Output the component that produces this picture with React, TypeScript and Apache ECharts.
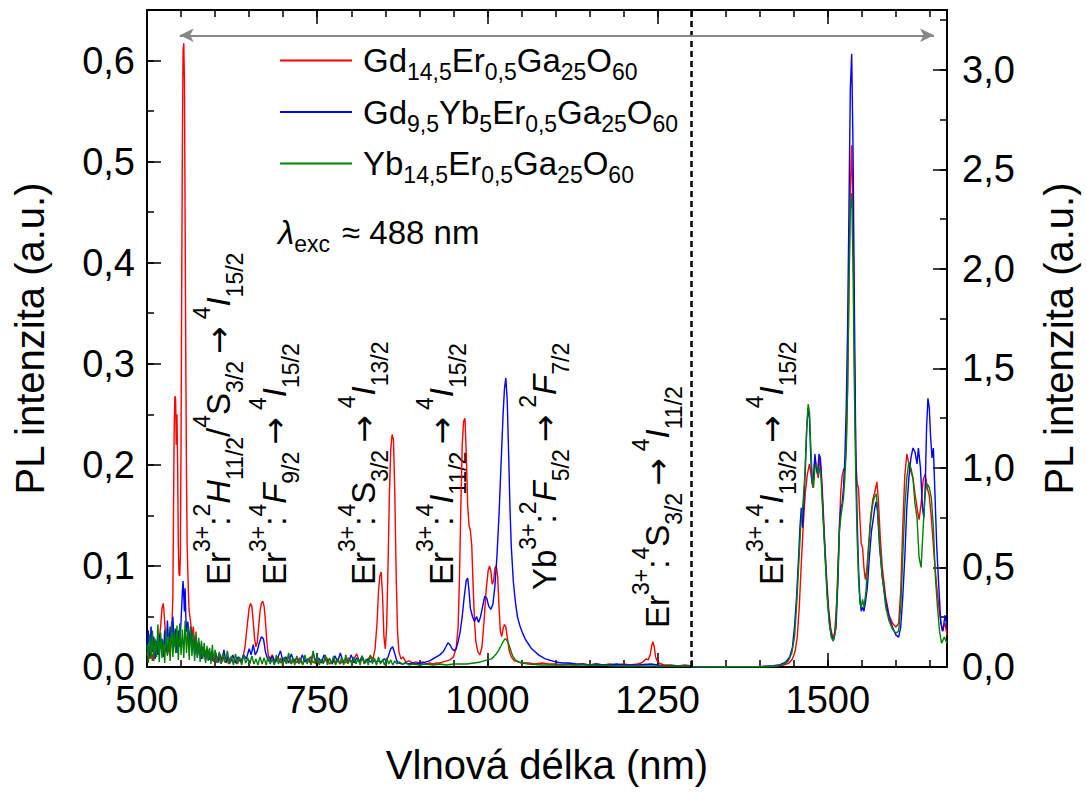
import React, { useEffect, useRef } from 'react';
import * as echarts from 'echarts';

const FONT = '"Liberation Sans", Arial, Helvetica, sans-serif';
const ARROW_FONT = '"DejaVu Sans", "Liberation Sans", sans-serif';

// ---------- data ----------
const sampleNames = ['Gd14,5Er0,5Ga25O60', 'Gd9,5Yb5Er0,5Ga25O60', 'Yb14,5Er0,5Ga25O60'];
const sampleColors = ['#ff0000', '#0000ff', '#008000'];
const xTickLabels = [500, 750, 1000, 1250, 1500];
const splitWavelength = 1300;

// visible range (left axis)
const redVis: [number, number][] = [
  [500,0.012],[502,0.02],[504,0.008],[506,0.016],[508,0.006],[510,0.018],[512,0.01],[514,0.022],[516,0.012],[518,0.028],[520,0.04],[522,0.058],[524,0.063],[526,0.045],[528,0.02],[530,0.012],[532,0.02],[534,0.012],[536,0.03],[538,0.07],[539,0.16],[540,0.24],[541,0.268],[542,0.265],[543,0.22],[544,0.25],[545,0.2],[546,0.12],[547,0.092],[548,0.09],[549,0.11],[550,0.22],[551,0.38],[552,0.52],[553,0.61],[554,0.617],[555,0.58],[556,0.44],[557,0.3],[558,0.19],[559,0.12],[560,0.095],[561,0.07],[562,0.055],[564,0.045],[566,0.03],[568,0.04],[570,0.022],[572,0.03],[574,0.016],[576,0.025],[578,0.012],[581,0.02],[584,0.01],[587,0.017],[590,0.007],[593,0.014],[596,0.006],[599,0.012],[602,0.005],[605,0.011],[608,0.004],[611,0.012],[614,0.005],[617,0.009],[620,0.003],[623,0.01],[626,0.004],[629,0.008],[632,0.003],[635,0.007],[638,0.005],[641,0.01],[644,0.02],[647,0.04],[650,0.058],[652,0.063],[654,0.06],[656,0.045],[658,0.028],[660,0.02],[662,0.024],[664,0.04],[666,0.055],[668,0.063],[670,0.065],[672,0.06],[674,0.045],[676,0.025],[678,0.012],[681,0.008],[684,0.012],[688,0.005],[692,0.01],[696,0.004],[700,0.009],[704,0.004],[708,0.01],[712,0.003],[716,0.008],[720,0.004],[724,0.009],[728,0.003],[732,0.007],[736,0.005],[740,0.01],[744,0.004],[748,0.008],[752,0.003],[756,0.007],[760,0.005],[764,0.009],[768,0.003],[772,0.006],[776,0.004],[780,0.008],[784,0.003],[788,0.007],[792,0.004],[796,0.009],[800,0.005],[804,0.008],[808,0.013],[812,0.005],[816,0.008],[820,0.004],[824,0.007],[828,0.011],[832,0.008],[835,0.018],[838,0.045],[840,0.075],[842,0.09],[844,0.094],[846,0.07],[848,0.03],[850,0.018],[852,0.04],[854,0.1],[856,0.17],[858,0.215],[860,0.23],[862,0.225],[864,0.17],[866,0.09],[868,0.035],[870,0.015],[873,0.008],[876,0.01],[880,0.005],[885,0.006],[890,0.004],[895,0.005],[900,0.004],[905,0.005],[910,0.003],[915,0.004],[920,0.003],[925,0.004],[930,0.004],[935,0.005],[940,0.006],[945,0.007],[950,0.01],[954,0.018],[957,0.04],[959,0.09],[961,0.16],[963,0.22],[965,0.243],[967,0.246],[969,0.21],[971,0.16],[973,0.14],[975,0.135],[977,0.12],[979,0.08],[981,0.045],[983,0.025],[986,0.015],[989,0.012],[992,0.02],[995,0.045],[998,0.075],[1001,0.095],[1003,0.1],[1005,0.095],[1007,0.082],[1009,0.085],[1011,0.098],[1013,0.1],[1015,0.09],[1017,0.06],[1019,0.035],[1021,0.03],[1023,0.038],[1025,0.042],[1027,0.04],[1029,0.03],[1032,0.016],[1035,0.01],[1040,0.006],[1045,0.005],[1050,0.004],[1060,0.004],[1070,0.003],[1080,0.004],[1090,0.003],[1100,0.003],[1110,0.002],[1120,0.003],[1130,0.002],[1140,0.003],[1150,0.002],[1160,0.003],[1170,0.002],[1180,0.003],[1190,0.002],[1200,0.003],[1210,0.002],[1220,0.003],[1226,0.004],[1230,0.006],[1233,0.008],[1236,0.007],[1239,0.012],[1241,0.02],[1243,0.025],[1245,0.02],[1247,0.01],[1250,0.005],[1255,0.003],[1260,0.002],[1270,0.002],[1280,0.001],[1290,0.002],[1300,0.001]
];

const blueVis: [number, number][] = [
  [500,0.02],[502,0.036],[504,0.01],[506,0.04],[508,0.015],[510,0.03],[512,0.008],[514,0.026],[516,0.012],[518,0.032],[520,0.018],[522,0.028],[524,0.01],[526,0.036],[528,0.015],[530,0.046],[532,0.02],[534,0.04],[536,0.024],[538,0.05],[540,0.02],[542,0.038],[544,0.014],[546,0.036],[548,0.02],[550,0.045],[551,0.06],[552,0.075],[553,0.085],[554,0.07],[555,0.055],[556,0.078],[557,0.05],[558,0.035],[560,0.045],[562,0.022],[564,0.04],[566,0.016],[568,0.032],[570,0.012],[572,0.028],[574,0.01],[577,0.024],[580,0.008],[583,0.02],[586,0.006],[589,0.018],[592,0.007],[595,0.016],[598,0.005],[601,0.014],[604,0.004],[607,0.013],[610,0.005],[613,0.017],[616,0.004],[619,0.011],[622,0.004],[626,0.012],[630,0.004],[634,0.01],[638,0.005],[642,0.012],[646,0.008],[650,0.018],[653,0.012],[656,0.022],[659,0.012],[662,0.016],[665,0.024],[668,0.03],[671,0.028],[674,0.015],[677,0.008],[680,0.005],[684,0.011],[688,0.004],[692,0.009],[696,0.016],[700,0.005],[704,0.01],[708,0.004],[712,0.013],[716,0.005],[720,0.009],[724,0.004],[728,0.012],[732,0.005],[736,0.008],[740,0.004],[744,0.014],[748,0.005],[752,0.009],[756,0.004],[760,0.012],[764,0.005],[768,0.008],[772,0.003],[776,0.011],[780,0.005],[784,0.014],[788,0.004],[792,0.008],[796,0.005],[800,0.012],[804,0.004],[808,0.009],[812,0.005],[816,0.011],[820,0.004],[824,0.008],[828,0.005],[832,0.007],[836,0.005],[840,0.006],[844,0.005],[848,0.008],[852,0.006],[855,0.012],[858,0.018],[861,0.02],[864,0.013],[867,0.006],[870,0.004],[875,0.003],[880,0.004],[885,0.003],[890,0.004],[895,0.003],[900,0.004],[905,0.004],[910,0.005],[915,0.006],[920,0.008],[925,0.01],[930,0.012],[935,0.015],[939,0.02],[942,0.024],[945,0.022],[948,0.018],[951,0.016],[954,0.018],[957,0.025],[960,0.035],[963,0.05],[966,0.07],[969,0.086],[971,0.088],[973,0.075],[975,0.058],[978,0.05],[981,0.045],[984,0.05],[987,0.044],[990,0.05],[993,0.06],[996,0.07],[999,0.068],[1002,0.06],[1005,0.057],[1008,0.062],[1011,0.08],[1014,0.11],[1017,0.15],[1020,0.2],[1023,0.25],[1025,0.275],[1027,0.286],[1029,0.265],[1031,0.215],[1033,0.16],[1035,0.12],[1038,0.085],[1041,0.065],[1044,0.05],[1048,0.04],[1052,0.033],[1056,0.027],[1060,0.023],[1065,0.018],[1070,0.015],[1075,0.012],[1080,0.01],[1085,0.008],[1090,0.007],[1095,0.006],[1100,0.005],[1110,0.004],[1120,0.004],[1130,0.003],[1140,0.003],[1150,0.002],[1160,0.003],[1170,0.002],[1180,0.002],[1190,0.003],[1200,0.002],[1220,0.002],[1240,0.003],[1250,0.002],[1260,0.001],[1280,0.001],[1300,0.001]
];

const greenVis: [number, number][] = [
  [500,0.022],[502,0.004],[504,0.032],[506,0.008],[508,0.036],[510,0.006],[512,0.028],[514,0.01],[516,0.042],[518,0.005],[520,0.034],[522,0.009],[524,0.026],[526,0.004],[528,0.038],[530,0.011],[532,0.031],[534,0.006],[536,0.045],[538,0.01],[540,0.036],[542,0.014],[544,0.041],[546,0.007],[548,0.043],[550,0.012],[552,0.037],[554,0.009],[556,0.046],[558,0.014],[560,0.039],[562,0.007],[564,0.04],[566,0.011],[568,0.032],[570,0.006],[572,0.035],[574,0.009],[576,0.029],[578,0.005],[580,0.026],[582,0.008],[584,0.024],[586,0.004],[588,0.021],[590,0.006],[592,0.019],[594,0.003],[596,0.022],[598,0.005],[600,0.017],[603,0.004],[606,0.015],[609,0.003],[612,0.013],[615,0.004],[618,0.016],[621,0.003],[624,0.011],[627,0.002],[630,0.013],[633,0.003],[636,0.01],[639,0.002],[642,0.012],[645,0.004],[648,0.009],[651,0.003],[654,0.011],[657,0.003],[660,0.008],[663,0.002],[666,0.01],[669,0.003],[672,0.009],[675,0.002],[678,0.011],[681,0.003],[684,0.008],[687,0.002],[690,0.012],[693,0.003],[696,0.009],[699,0.002],[702,0.01],[705,0.003],[708,0.014],[711,0.003],[714,0.009],[717,0.002],[720,0.011],[723,0.003],[726,0.008],[729,0.002],[732,0.012],[735,0.003],[738,0.009],[741,0.002],[744,0.016],[747,0.003],[750,0.01],[753,0.002],[756,0.008],[759,0.003],[762,0.012],[765,0.002],[768,0.009],[771,0.003],[774,0.011],[777,0.002],[780,0.008],[783,0.003],[786,0.01],[789,0.002],[792,0.012],[795,0.003],[798,0.008],[801,0.002],[804,0.01],[807,0.003],[810,0.009],[813,0.002],[816,0.011],[819,0.003],[822,0.008],[825,0.002],[828,0.012],[831,0.003],[834,0.009],[837,0.002],[840,0.01],[843,0.003],[846,0.007],[849,0.002],[852,0.009],[855,0.003],[858,0.007],[861,0.002],[864,0.006],[867,0.003],[870,0.005],[875,0.003],[880,0.004],[885,0.002],[890,0.003],[900,0.002],[910,0.003],[920,0.002],[930,0.003],[940,0.002],[950,0.003],[960,0.003],[970,0.003],[980,0.004],[990,0.005],[1000,0.007],[1006,0.008],[1012,0.012],[1016,0.016],[1020,0.021],[1023,0.025],[1026,0.028],[1028,0.027],[1031,0.023],[1034,0.017],[1037,0.011],[1041,0.007],[1046,0.005],[1052,0.004],[1060,0.003],[1080,0.002],[1100,0.002],[1150,0.002],[1200,0.001],[1250,0.001],[1300,0.001]
];

// infrared range (right axis)
const redIR: [number, number][] = [
  [1300,0],[1340,0],[1380,0.001],[1400,0.002],[1420,0.004],[1435,0.01],[1443,0.02],[1448,0.04],[1452,0.08],[1455,0.15],[1458,0.3],[1461,0.52],[1464,0.72],[1467,0.88],[1470,0.97],[1473,1.02],[1476,0.95],[1478,0.9],[1481,1.05],[1484,0.98],[1486,0.95],[1488,1.05],[1490,1.0],[1492,0.88],[1495,0.66],[1498,0.46],[1501,0.3],[1504,0.2],[1507,0.15],[1510,0.17],[1513,0.32],[1516,0.62],[1519,0.88],[1521,0.96],[1523,0.99],[1525,1.0],[1527,1.1],[1529,1.4],[1531,1.9],[1533,2.4],[1535,2.62],[1537,2.25],[1539,1.55],[1541,1.05],[1543,0.92],[1545,0.9],[1547,0.75],[1549,0.62],[1551,0.6],[1553,0.5],[1555,0.44],[1557,0.48],[1560,0.62],[1563,0.76],[1566,0.84],[1569,0.88],[1572,0.93],[1574,0.85],[1577,0.65],[1580,0.5],[1585,0.35],[1590,0.26],[1595,0.22],[1600,0.2],[1604,0.22],[1607,0.38],[1610,0.7],[1613,0.96],[1616,1.07],[1619,1.02],[1622,0.98],[1625,0.95],[1628,0.87],[1631,0.8],[1634,0.74],[1637,0.82],[1640,0.94],[1643,0.97],[1646,0.9],[1649,0.86],[1652,0.75],[1656,0.56],[1660,0.4],[1664,0.27],[1668,0.18],[1672,0.22],[1675,0.16]
];

const blueIR: [number, number][] = [
  [1300,0],[1360,0.001],[1400,0.002],[1420,0.006],[1430,0.012],[1438,0.025],[1444,0.05],[1448,0.1],[1451,0.2],[1454,0.35],[1457,0.55],[1459,0.7],[1461,0.8],[1463,0.7],[1465,0.85],[1467,1.0],[1469,1.2],[1471,1.3],[1473,1.25],[1475,1.05],[1477,0.92],[1479,0.95],[1481,1.07],[1483,1.0],[1485,0.97],[1487,1.07],[1489,1.05],[1491,0.92],[1494,0.7],[1497,0.5],[1500,0.32],[1503,0.2],[1506,0.15],[1509,0.14],[1512,0.2],[1515,0.45],[1517,0.7],[1519,0.8],[1521,0.82],[1523,0.9],[1525,1.05],[1527,1.3],[1529,1.7],[1531,2.3],[1533,2.9],[1535,3.08],[1537,2.6],[1539,1.8],[1541,1.1],[1543,0.75],[1545,0.5],[1547,0.35],[1549,0.28],[1551,0.3],[1553,0.28],[1555,0.32],[1558,0.4],[1561,0.55],[1564,0.68],[1567,0.75],[1569,0.8],[1571,0.83],[1573,0.78],[1576,0.6],[1580,0.45],[1585,0.33],[1590,0.25],[1595,0.2],[1600,0.16],[1604,0.15],[1607,0.2],[1610,0.35],[1613,0.55],[1616,0.8],[1619,0.95],[1622,1.05],[1625,1.1],[1628,1.08],[1631,1.02],[1633,1.1],[1636,1.0],[1639,0.8],[1641,0.75],[1643,0.9],[1645,1.2],[1647,1.35],[1649,1.3],[1651,1.15],[1653,1.05],[1655,1.1],[1657,0.9],[1660,0.6],[1663,0.4],[1666,0.22],[1669,0.18],[1672,0.26],[1675,0.2]
];

const greenIR: [number, number][] = [
  [1300,0],[1360,0.001],[1400,0.001],[1420,0.004],[1435,0.012],[1442,0.03],[1447,0.07],[1451,0.15],[1454,0.3],[1457,0.5],[1460,0.7],[1463,0.8],[1466,0.95],[1469,1.2],[1471,1.32],[1473,1.28],[1475,1.1],[1477,0.95],[1479,0.9],[1481,1.0],[1483,1.02],[1486,0.97],[1488,1.0],[1490,0.95],[1493,0.75],[1496,0.55],[1499,0.35],[1502,0.22],[1505,0.15],[1508,0.13],[1511,0.18],[1514,0.4],[1517,0.68],[1519,0.75],[1521,0.8],[1523,0.85],[1525,0.95],[1527,1.1],[1529,1.4],[1531,1.9],[1533,2.3],[1535,2.38],[1537,2.0],[1539,1.4],[1541,0.95],[1543,0.65],[1545,0.45],[1547,0.32],[1549,0.3],[1551,0.34],[1553,0.3],[1556,0.38],[1559,0.55],[1562,0.7],[1565,0.8],[1568,0.85],[1571,0.87],[1573,0.8],[1576,0.62],[1580,0.45],[1585,0.3],[1590,0.23],[1595,0.19],[1600,0.17],[1604,0.18],[1607,0.3],[1610,0.55],[1613,0.8],[1616,0.95],[1619,1.03],[1622,1.0],[1625,0.95],[1628,0.82],[1631,0.75],[1634,0.55],[1637,0.5],[1640,0.7],[1643,0.88],[1646,0.92],[1649,0.9],[1652,0.85],[1655,0.7],[1658,0.45],[1661,0.3],[1664,0.18],[1667,0.12],[1671,0.15],[1675,0.12]
];

const visData = [redVis, blueVis, greenVis];
const irData = [redIR, blueIR, greenIR];

// legend formula parts
const legendParts: string[][][] = [
  [['m', 'Gd'], ['s', '14,5'], ['m', 'Er'], ['s', '0,5'], ['m', 'Ga'], ['s', '25'], ['m', 'O'], ['s', '60']],
  [['m', 'Gd'], ['s', '9,5'], ['m', 'Yb'], ['s', '5'], ['m', 'Er'], ['s', '0,5'], ['m', 'Ga'], ['s', '25'], ['m', 'O'], ['s', '60']],
  [['m', 'Yb'], ['s', '14,5'], ['m', 'Er'], ['s', '0,5'], ['m', 'Ga'], ['s', '25'], ['m', 'O'], ['s', '60']],
];

// transition annotations (vertical text)
const transitions: { x: number; y: number; parts: string[][] }[] = [
  { x: 218, y: 585, parts: [['n','Er'],['sup','3+'],['n',':'],['sup','2'],['i','H'],['sub','11/2'],['n','/'],['sup','4'],['n','S'],['sub','3/2'],['ar','→'],['sup','4'],['i','I'],['sub','15/2']] },
  { x: 274, y: 585, parts: [['n','Er'],['sup','3+'],['n',':'],['sup','4'],['i','F'],['sub','9/2'],['ar','→'],['sup','4'],['i','I'],['sub','15/2']] },
  { x: 363, y: 585, parts: [['n','Er'],['sup','3+'],['n',':'],['sup','4'],['n','S'],['sub','3/2'],['ar','→'],['sup','4'],['i','I'],['sub','13/2']] },
  { x: 441, y: 585, parts: [['n','Er'],['sup','3+'],['n',':'],['sup','4'],['i','I'],['sub','11/2'],['ar','→'],['sup','4'],['i','I'],['sub','15/2']] },
  { x: 544, y: 590, parts: [['n','Yb'],['sup','3+'],['n',':'],['sup','2'],['i','F'],['sub','5/2'],['ar','→'],['sup','2'],['i','F'],['sub','7/2']] },
  { x: 657, y: 628, parts: [['n','Er'],['sup','3+'],['n',':'],['sup','4'],['n','S'],['sub','3/2'],['ar','→'],['sup','4'],['i','I'],['sub','11/2']] },
  { x: 771, y: 585, parts: [['n','Er'],['sup','3+'],['n',':'],['sup','4'],['i','I'],['sub','13/2'],['ar','→'],['sup','4'],['i','I'],['sub','15/2']] },
];

const toRich = (parts: string[][]) => parts.map(([s, t]) => `{${s}|${t}}`).join('');
const commaFmt = (v: number) => v.toFixed(1).replace('.', ',');

const transRich = {
  n: { fontFamily: FONT, fontSize: 33, lineHeight: 56, fill: '#000' },
  i: { fontFamily: FONT, fontSize: 33, lineHeight: 56, fontStyle: 'italic', fill: '#000' },
  ar: { fontFamily: ARROW_FONT, fontSize: 33, lineHeight: 56, padding: [0, 7, 0, 7], fill: '#000' },
  sup: { fontFamily: FONT, fontSize: 23, lineHeight: 27, verticalAlign: 'top', fill: '#000' },
  sub: { fontFamily: FONT, fontSize: 23, lineHeight: 29, verticalAlign: 'bottom', fill: '#000' },
};

function buildOption() {
  const axisLineStyle = { color: '#000', width: 2 };
  const tickStyle = { color: '#000', width: 1.5 };
  const xBase = { type: 'value', min: 500, max: 1675, splitLine: { show: false } };
  const xAxis = [
    { ...xBase, position: 'bottom', interval: 50, axisLine: { show: true, onZero: false, lineStyle: axisLineStyle },
      axisTick: { show: true, inside: true, length: 7, lineStyle: tickStyle }, axisLabel: { show: false } },
    { ...xBase, position: 'bottom', interval: 250, axisLine: { show: false, onZero: false },
      axisTick: { show: true, inside: true, length: 14, lineStyle: tickStyle },
      axisLabel: { show: true, fontSize: 38, fontFamily: FONT, color: '#000', margin: 14, showMaxLabel: false,
        formatter: (v: number) => (xTickLabels.includes(v) ? String(v) : '') },
      name: 'Vlnová délka (nm)', nameLocation: 'middle', nameGap: 78,
      nameTextStyle: { fontSize: 40, fontFamily: FONT, color: '#000' } },
    { ...xBase, position: 'top', interval: 50, axisLine: { show: true, onZero: false, lineStyle: axisLineStyle },
      axisTick: { show: true, inside: true, length: 7, lineStyle: tickStyle }, axisLabel: { show: false } },
    { ...xBase, position: 'top', interval: 250, axisLine: { show: false, onZero: false },
      axisTick: { show: true, inside: true, length: 14, lineStyle: tickStyle }, axisLabel: { show: false } },
  ];
  const yAxis = [
    { type: 'value', min: 0, max: 0.65, interval: 0.05, position: 'left', splitLine: { show: false },
      axisLine: { show: true, onZero: false, lineStyle: axisLineStyle },
      axisTick: { show: true, inside: true, length: 7, lineStyle: tickStyle }, axisLabel: { show: false } },
    { type: 'value', min: 0, max: 0.65, interval: 0.1, position: 'left', splitLine: { show: false },
      axisLine: { show: false, onZero: false },
      axisTick: { show: true, inside: true, length: 14, lineStyle: tickStyle },
      axisLabel: { show: true, fontSize: 38, fontFamily: FONT, color: '#000', margin: 12, showMaxLabel: false, formatter: commaFmt },
      name: 'PL intenzita (a.u.)', nameLocation: 'middle', nameGap: 97,
      nameTextStyle: { fontSize: 40, fontFamily: FONT, color: '#000' } },
    { type: 'value', min: 0, max: 3.3, interval: 0.25, position: 'right', splitLine: { show: false },
      axisLine: { show: true, onZero: false, lineStyle: axisLineStyle },
      axisTick: { show: true, inside: true, length: 7, lineStyle: tickStyle }, axisLabel: { show: false } },
    { type: 'value', min: 0, max: 3.3, interval: 0.5, position: 'right', splitLine: { show: false },
      axisLine: { show: false, onZero: false },
      axisTick: { show: true, inside: true, length: 14, lineStyle: tickStyle },
      axisLabel: { show: true, fontSize: 38, fontFamily: FONT, color: '#000', margin: 15, showMaxLabel: false, formatter: commaFmt },
      name: 'PL intenzita (a.u.)', nameLocation: 'middle', nameGap: 92,
      nameTextStyle: { fontSize: 40, fontFamily: FONT, color: '#000' } },
  ];

  const series: any[] = [];
  sampleNames.forEach((name, i) => {
    const left: any = {
      name, type: 'line', data: visData[i], xAxisIndex: 0, yAxisIndex: 0,
      showSymbol: false, symbol: 'none', lineStyle: { color: sampleColors[i], width: 1.4 },
      itemStyle: { color: sampleColors[i] }, z: 2 + i, silent: true,
    };
    if (i === 0) {
      left.markLine = {
        silent: true, symbol: ['none', 'none'], label: { show: false },
        lineStyle: { color: '#000', type: [6, 4], width: 2.5 },
        data: [{ xAxis: splitWavelength }],
      };
    }
    if (i === 1) {
      left.markLine = {
        silent: true, symbol: ['arrow', 'arrow'], symbolSize: [10, 14], label: { show: false },
        lineStyle: { color: '#888888', type: 'solid', width: 2 },
        data: [[{ coord: [548, 0.625] }, { coord: [1656, 0.625] }]],
      };
    }
    series.push(left);
    series.push({
      name, type: 'line', data: irData[i], xAxisIndex: 0, yAxisIndex: 2,
      showSymbol: false, symbol: 'none', lineStyle: { color: sampleColors[i], width: 1.4 },
      itemStyle: { color: sampleColors[i] }, z: 2 + i, silent: true,
    });
  });

  const graphic: any[] = [
    {
      type: 'text', x: 278, y: 232, silent: true,
      style: {
        text: '{l|λ}{s|exc}{m|≈ 488 nm}',
        fill: '#000', align: 'left', verticalAlign: 'middle', textAlign: 'left', textVerticalAlign: 'middle',
        rich: {
          l: { fontFamily: FONT, fontSize: 33, fontStyle: 'italic', lineHeight: 46, fill: '#000' },
          s: { fontFamily: FONT, fontSize: 23, lineHeight: 22, verticalAlign: 'bottom', fill: '#000' },
          m: { fontFamily: FONT, fontSize: 33, lineHeight: 46, padding: [0, 0, 0, 12], fill: '#000' },
        },
      },
    },
    ...transitions.map((t) => ({
      type: 'text', x: t.x, y: t.y, rotation: Math.PI / 2, silent: true,
      style: {
        text: toRich(t.parts), fill: '#000',
        align: 'left', verticalAlign: 'middle', textAlign: 'left', textVerticalAlign: 'middle',
        rich: transRich,
      },
    })),
  ];

  return {
    animation: false,
    backgroundColor: '#ffffff',
    textStyle: { fontFamily: FONT },
    grid: { left: 147, right: 137, top: 10, bottom: 127, containLabel: false },
    legend: {
      data: sampleNames.map((n) => ({ name: n, icon: 'rect' })),
      orient: 'vertical', left: 275, top: 39, itemWidth: 72, itemHeight: 2, itemGap: 12,
      selectedMode: false,
      formatter: (name: string) => {
        const idx = sampleNames.indexOf(name);
        const parts = legendParts[idx].map((p, k) => (k === 0 ? ['f', p[1]] : p));
        return toRich(parts);
      },
      textStyle: {
        color: '#000', fontFamily: FONT,
        rich: {
          f: { fontFamily: FONT, fontSize: 33, lineHeight: 46, color: '#000', padding: [0, 0, 0, 6] },
          m: { fontFamily: FONT, fontSize: 33, lineHeight: 46, color: '#000' },
          s: { fontFamily: FONT, fontSize: 23, lineHeight: 22, verticalAlign: 'bottom', color: '#000' },
        },
      },
    },
    xAxis, yAxis, series, graphic,
  };
}

export default function App() {
  const ref = useRef<HTMLDivElement>(null);
  useEffect(() => {
    if (!ref.current) return;
    const chart = echarts.init(ref.current, null, { renderer: 'svg' });
    chart.setOption(buildOption() as any);
    return () => chart.dispose();
  }, []);
  return (
    <div
      ref={ref}
      style={{ position: 'fixed', left: 0, top: 0, width: 1087, height: 794, background: '#fff' }}
    />
  );
}
